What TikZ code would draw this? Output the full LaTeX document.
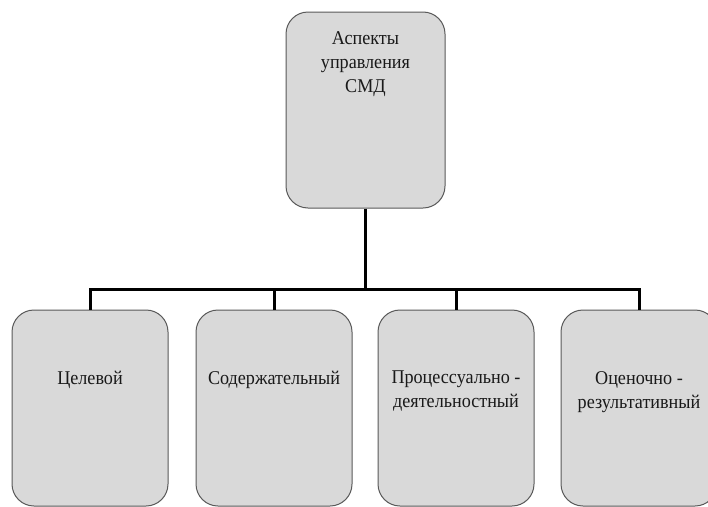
\documentclass[tikz,border=0pt]{standalone}
\usepackage{fontspec}
\setmainfont[FakeStretch=0.93]{Liberation Serif}
\begin{document}
\begin{tikzpicture}[x=1pt,y=-1pt,
  boxnode/.style={draw=black!65, line width=1pt, fill=black!15, rounded corners=22pt, minimum width=156pt, minimum height=196pt, inner sep=0pt},
  txt/.style={font=\fontsize{19.5pt}{24pt}\selectfont, align=center, anchor=north, inner sep=0pt, text=black!90},
  conn/.style={line width=3pt, black}]
\useasboundingbox (0,0) rectangle (708,506);
\clip (0,0) rectangle (708,506);
\node[boxnode, minimum width=159pt] (top) at (365.5,110) {};
\node[txt] (toptxt) at (365.5,31) {Аспекты\\управления\\СМД};
\node[boxnode] (b1) at (90,408) {};
\node[boxnode] (b2) at (274,408) {};
\node[boxnode] (b3) at (456,408) {};
\node[boxnode] (b4) at (639,408) {};
\node[txt] (t1) at (b1.center |- 0,371) {Целевой};
\node[txt] (t2) at (b2.center |- 0,371) {Содержательный};
\node[txt] (t3) at (b3.center |- 0,371) {Процессуально -\\деятельностный};
\node[txt] (t4) at (b4.center |- 0,371) {Оценочно -\\результативный};
\coordinate (bus) at (365.5,289);
\draw[conn] (top.south) -- (bus);
\draw[conn] (b1.north) -- (b1.north |- bus) -- (b4.north |- bus) -- (b4.north);
\draw[conn] (b2.north) -- (b2.north |- bus);
\draw[conn] (b3.north) -- (b3.north |- bus);
\end{tikzpicture}
\end{document}
